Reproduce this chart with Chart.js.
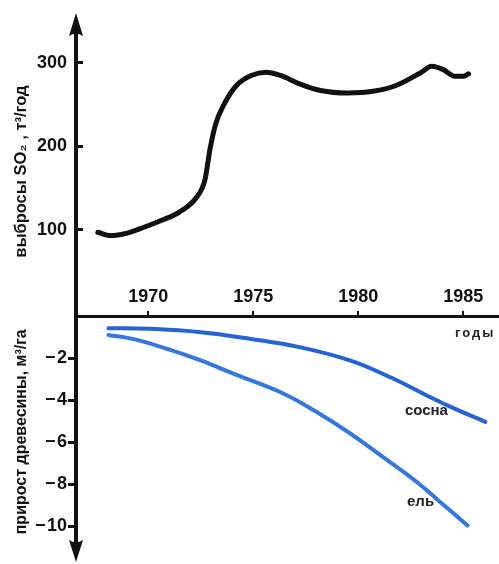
<!DOCTYPE html>
<html>
<head>
<meta charset="utf-8">
<script src="https://cdn.jsdelivr.net/npm/chart.js"></script>
<style>
  html, body { margin: 0; padding: 0; background: #fff; }
  #wrap { position: relative; width: 499px; height: 564px; overflow: hidden; }
  #bottomChart { position: absolute; left: 0; top: 270px; }
  #topChart { position: absolute; left: 0; top: 0; }
</style>
</head>
<body>
<div id="wrap">
  <canvas id="bottomChart" width="499" height="294"></canvas>
  <canvas id="topChart" width="499" height="340"></canvas>
</div>
<script>
// SO2 emissions (top panel)
var so2Years  = [1967.6, 1968.2, 1969.0, 1969.8, 1970.7, 1971.4, 1972.3, 1972.7, 1972.95, 1973.2, 1973.6, 1974.2, 1974.9, 1975.6, 1976.3, 1977.2, 1978.2, 1979.5, 1980.7, 1981.8, 1982.95, 1983.5, 1984.05, 1984.6, 1985.0, 1985.25];
var so2Values = [97, 93, 96, 103, 112, 120, 139, 160, 198, 226, 250, 273, 285, 289, 285, 275, 267, 264, 266, 273, 288, 296, 292, 284, 284, 287];

// wood growth (bottom panel)
var pineYears    = [1968.1, 1970.1, 1972.5, 1974.9, 1977.2, 1979.6, 1981.5, 1983.1, 1984.4, 1986.05];
var pineValues   = [-0.58, -0.61, -0.77, -1.09, -1.48, -2.11, -2.9, -3.69, -4.32, -5.03];
var spruceYears  = [1968.1, 1969.3, 1970.9, 1972.5, 1974.05, 1976.4, 1978.0, 1979.6, 1981.2, 1982.8, 1983.8, 1985.2];
var spruceValues = [-0.9, -1.1, -1.56, -2.11, -2.74, -3.67, -4.55, -5.57, -6.72, -7.9, -8.75, -9.95];

// ticks
var yearTicks   = [1970, 1975, 1980, 1985];
var so2Ticks    = [100, 200, 300];
var growthTicks = [-2, -4, -6, -8, -10];

var xMin = 1966.56, xMax = 1986.7;
var ink = '#111';
var fontFamily = '"Liberation Sans", Arial, sans-serif';

Chart.defaults.font.family = fontFamily;
Chart.defaults.color = ink;

function toPoints(xs, ys) {
    return xs.map(function(x, i) { return { x: x, y: ys[i] }; });
}

function tickList(values) {
    return function(scale) { scale.ticks = values.map(function(v) { return { value: v }; }); };
}

function drawArrow(ctx, x, tipY, baseY) {
    ctx.save();
    ctx.fillStyle = ink;
    ctx.beginPath();
    ctx.moveTo(x, tipY);
    ctx.lineTo(x + 7, baseY);
    ctx.quadraticCurveTo(x, baseY - (baseY - tipY) * 0.2, x - 7, baseY);
    ctx.closePath();
    ctx.fill();
    ctx.restore();
}

// top arrow on the SO2 axis
var arrowUp = {
    id: 'arrowUp',
    afterDraw: function(chart) {
        drawArrow(chart.ctx, chart.scales.y.right, 13, 36);
    }
};

// bottom arrow + text labels
var bottomExtras = {
    id: 'bottomExtras',
    afterDraw: function(chart) {
        var ctx = chart.ctx, xs = chart.scales.x, ys = chart.scales.y;
        drawArrow(ctx, ys.right, 292, 270);
        ctx.save();
        ctx.fillStyle = '#222';
        ctx.textBaseline = 'middle';
        ctx.textAlign = 'left';
        ctx.font = 'bold 15px ' + fontFamily;
        ctx.fillText('сосна', xs.getPixelForValue(1982.22), ys.getPixelForValue(-4.51));
        ctx.fillText('ель', xs.getPixelForValue(1982.32), ys.getPixelForValue(-8.84));
        ctx.font = 'bold 13px ' + fontFamily;
        ctx.letterSpacing = '2px';
        ctx.fillText('годы', xs.getPixelForValue(1984.6), ys.getPixelForValue(-0.81));
        ctx.restore();
    }
};

new Chart(document.getElementById('topChart'), {
    type: 'line',
    data: {
        datasets: [{
            data: toPoints(so2Years, so2Values),
            borderColor: ink,
            borderWidth: 5,
            pointRadius: 0,
            cubicInterpolationMode: 'monotone',
            borderCapStyle: 'round',
            borderJoinStyle: 'round'
        }]
    },
    options: {
        responsive: false,
        animation: false,
        layout: { padding: { top: 30, right: 0, bottom: 24, left: 0 } },
        plugins: { legend: { display: false }, tooltip: { enabled: false } },
        scales: {
            x: { type: 'linear', min: xMin, max: xMax, display: false },
            y: {
                min: 0,
                max: 339.5,
                afterFit: function(s) { s.width = 76; },
                afterBuildTicks: tickList(so2Ticks),
                border: { display: true, color: ink, width: 4 },
                grid: { drawOnChartArea: false, drawTicks: true, tickLength: -7, color: ink, lineWidth: 3 },
                ticks: { padding: 16, color: ink, font: { size: 18, weight: 'bold' } },
                title: {
                    display: true,
                    text: 'выбросы SO₂ , т³/год',
                    color: ink,
                    font: { size: 16.5, weight: 'bold' },
                    padding: { top: 12, bottom: 0 }
                }
            }
        }
    },
    plugins: [arrowUp]
});

new Chart(document.getElementById('bottomChart'), {
    type: 'line',
    data: {
        datasets: [{
            label: 'сосна',
            data: toPoints(pineYears, pineValues),
            borderColor: '#2563d6',
            borderWidth: 4,
            pointRadius: 0,
            tension: 0.4,
            borderCapStyle: 'round'
        }, {
            label: 'ель',
            data: toPoints(spruceYears, spruceValues),
            borderColor: '#3478de',
            borderWidth: 4,
            pointRadius: 0,
            tension: 0.4,
            borderCapStyle: 'round'
        }]
    },
    options: {
        responsive: false,
        animation: false,
        layout: { padding: { top: 0, right: 0, bottom: 16.45, left: 0 } },
        plugins: { legend: { display: false }, tooltip: { enabled: false } },
        scales: {
            x: {
                type: 'linear',
                position: 'top',
                min: xMin,
                max: xMax,
                afterFit: function(s) { s.height = 46; },
                afterBuildTicks: tickList(yearTicks),
                border: { display: true, color: ink, width: 3 },
                grid: { drawOnChartArea: false, drawTicks: true, tickLength: 5, color: ink, lineWidth: 2 },
                ticks: {
                    padding: 3,
                    maxRotation: 0,
                    autoSkip: false,
                    color: ink,
                    font: { size: 18, weight: 'bold' },
                    callback: function(v) { return String(v); }
                }
            },
            y: {
                min: -11,
                max: 0,
                afterFit: function(s) { s.width = 76; },
                afterBuildTicks: tickList(growthTicks),
                border: { display: true, color: ink, width: 4 },
                grid: { drawOnChartArea: false, drawTicks: true, tickLength: 8, color: ink, lineWidth: 3 },
                ticks: {
                    padding: 1,
                    color: ink,
                    font: { size: 18, weight: 'bold' },
                    callback: function(v) { return '\u2212\u200a' + Math.abs(v); }
                },
                title: {
                    display: true,
                    text: 'прирост древесины, м³/га',
                    color: ink,
                    font: { size: 16, weight: 'bold' },
                    padding: { top: 12, bottom: 0 }
                }
            }
        }
    },
    plugins: [bottomExtras]
});
</script>
</body>
</html>
